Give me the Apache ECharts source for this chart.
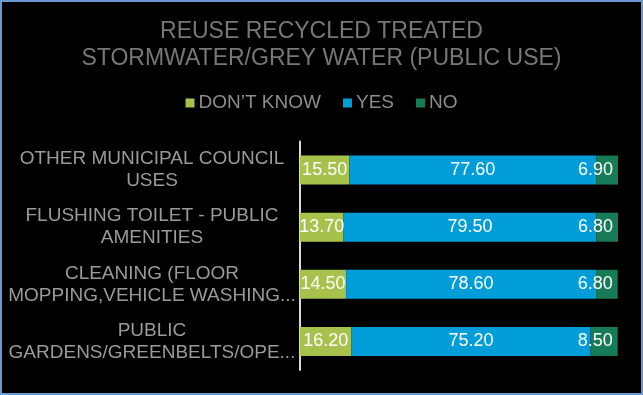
<!DOCTYPE html>
<html>
<head>
<meta charset="utf-8">
<script src="https://cdn.jsdelivr.net/npm/echarts@6/dist/echarts.min.js"></script>
<style>
html,body{margin:0;padding:0;background:#000;}
#chart{width:643px;height:395px;}
</style>
</head>
<body>
<div id="chart"></div>
<script>
const titleText = "REUSE RECYCLED TREATED\nSTORMWATER/GREY WATER (PUBLIC USE)";
const categories = [
  "OTHER MUNICIPAL COUNCIL\nUSES",
  "FLUSHING TOILET - PUBLIC\nAMENITIES",
  "CLEANING (FLOOR\nMOPPING,VEHICLE WASHING...",
  "PUBLIC\nGARDENS/GREENBELTS/OPE..."
];
const seriesNames = ["DON\u2019T KNOW", "YES", "NO"];
const dontKnow = [15.50, 13.70, 14.50, 16.20];
const yes = [77.60, 79.50, 78.60, 75.20];
const no = [6.90, 6.80, 6.80, 8.50];
const colors = ["#a6c24c", "#009dd9", "#177b57"];

const FONT = "'Liberation Sans', Arial, sans-serif";
const chart = echarts.init(document.getElementById('chart'), null, {renderer: 'canvas'});

function mkSeries(name, data, color, pos) {
  return {
    name: name,
    type: 'bar',
    stack: 'total',
    data: data,
    barWidth: 29,
    itemStyle: {color: color},
    label: {
      show: true,
      position: pos,
      color: '#ffffff',
      fontFamily: FONT,
      fontSize: 18,
      formatter: p => Number(p.value).toFixed(2)
    },
    emphasis: {disabled: true}
  };
}

chart.setOption({
  backgroundColor: '#000000',
  animation: false,
  title: {
    text: titleText,
    left: 'center',
    top: 13,
    textStyle: {
      color: '#777777',
      fontFamily: FONT,
      fontSize: 23,
      fontWeight: 'normal',
      lineHeight: 27
    }
  },
  legend: {
    data: seriesNames,
    top: 88,
    left: 'center',
    icon: 'rect',
    itemWidth: 9,
    itemHeight: 9,
    itemGap: 22,
    textStyle: {
      color: '#8c8c8c',
      fontFamily: FONT,
      fontSize: 19,
      lineHeight: 20,
      padding: [0, 0, 0, -1]
    }
  },
  grid: {
    left: 300,
    right: 25,
    top: 141.5,
    height: 228.5,
    containLabel: false
  },
  xAxis: {
    type: 'value',
    min: 0,
    max: 100,
    show: false
  },
  yAxis: {
    type: 'category',
    data: categories,
    inverse: true,
    axisLine: {show: true, lineStyle: {color: '#d9d9d9', width: 2}},
    axisTick: {show: false},
    splitLine: {show: false},
    axisLabel: {
      color: '#9a9a9a',
      fontFamily: FONT,
      fontSize: 19,
      lineHeight: 22,
      align: 'center',
      margin: 148
    }
  },
  graphic: [{
    type: 'rect',
    shape: {x: 1, y: 1, width: 641, height: 393},
    style: {fill: 'none', stroke: '#6a98d0', lineWidth: 2},
    silent: true
  }],
  series: [
    mkSeries(seriesNames[0], dontKnow, colors[0], 'inside'),
    mkSeries(seriesNames[1], yes, colors[1], 'inside'),
    mkSeries(seriesNames[2], no, colors[2], 'insideRight')
  ]
});
</script>
</body>
</html>
